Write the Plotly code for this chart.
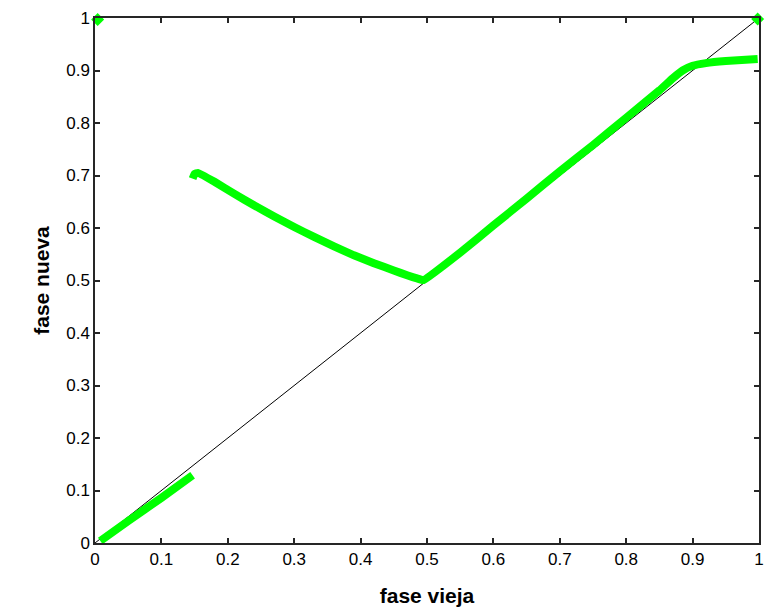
import plotly.graph_objects as go

# diagonal reference
diag_x = [0, 1]
diag_y = [0, 1]

# lower branch
low_x = [0.008, 0.05, 0.1, 0.147]
low_y = [0.004, 0.042, 0.086, 0.129]

# middle branch (hook + descending curve + ascending branch)
mid_x = [0.147, 0.150, 0.155, 0.18, 0.21, 0.24, 0.27, 0.30, 0.33, 0.36, 0.39, 0.42,
         0.45, 0.47, 0.485, 0.495,
         0.55, 0.60, 0.65, 0.70, 0.75, 0.80, 0.85, 0.87, 0.885, 0.90, 0.92, 0.95, 0.998]
mid_y = [0.694, 0.703, 0.705, 0.688, 0.665, 0.643, 0.622, 0.602, 0.583, 0.565, 0.548, 0.533,
         0.519, 0.510, 0.504, 0.501,
         0.553, 0.605, 0.656, 0.708, 0.758, 0.810, 0.862, 0.885, 0.900, 0.909, 0.914, 0.918, 0.922]

# isolated points
pts_x = [0.004, 0.998]
pts_y = [0.997, 0.998]

green = "#00ff00"

fig = go.Figure()
fig.add_trace(go.Scatter(x=diag_x, y=diag_y, mode="lines",
                         line=dict(color="black", width=1), hoverinfo="skip", cliponaxis=False))
for xs, ys in [(low_x, low_y), (mid_x, mid_y)]:
    fig.add_trace(go.Scatter(x=xs, y=ys, mode="lines",
                             line=dict(color=green, width=8, shape="spline", smoothing=0.3),
                             hoverinfo="skip", cliponaxis=False))
fig.add_trace(go.Scatter(x=pts_x, y=pts_y, mode="markers",
                         marker=dict(color=green, size=10, symbol="diamond"),
                         hoverinfo="skip", cliponaxis=False))

axis_common = dict(
    range=[0, 1], dtick=0.1, tick0=0,
    showgrid=False, zeroline=False, automargin=False,
    showline=True, linecolor="#262626", linewidth=1.5, mirror="ticks",
    ticks="inside", ticklen=5, tickcolor="#262626", tickwidth=1.5,
    tickfont=dict(family="Arial, Liberation Sans", size=17, color="black"),
)

fig.update_layout(
    width=766, height=614,
    margin=dict(l=95, r=7, t=18, b=71),
    paper_bgcolor="white", plot_bgcolor="white",
    showlegend=False,
    xaxis=dict(**axis_common,
               title=dict(text="<b>fase vieja</b>", standoff=20,
                          font=dict(family="Arial, Liberation Sans", size=21, color="black"))),
    yaxis=dict(**axis_common,
               title=dict(text="<b>fase nueva</b>", standoff=11,
                          font=dict(family="Arial, Liberation Sans", size=21, color="black"))),
)

fig.write_html("out.html")
